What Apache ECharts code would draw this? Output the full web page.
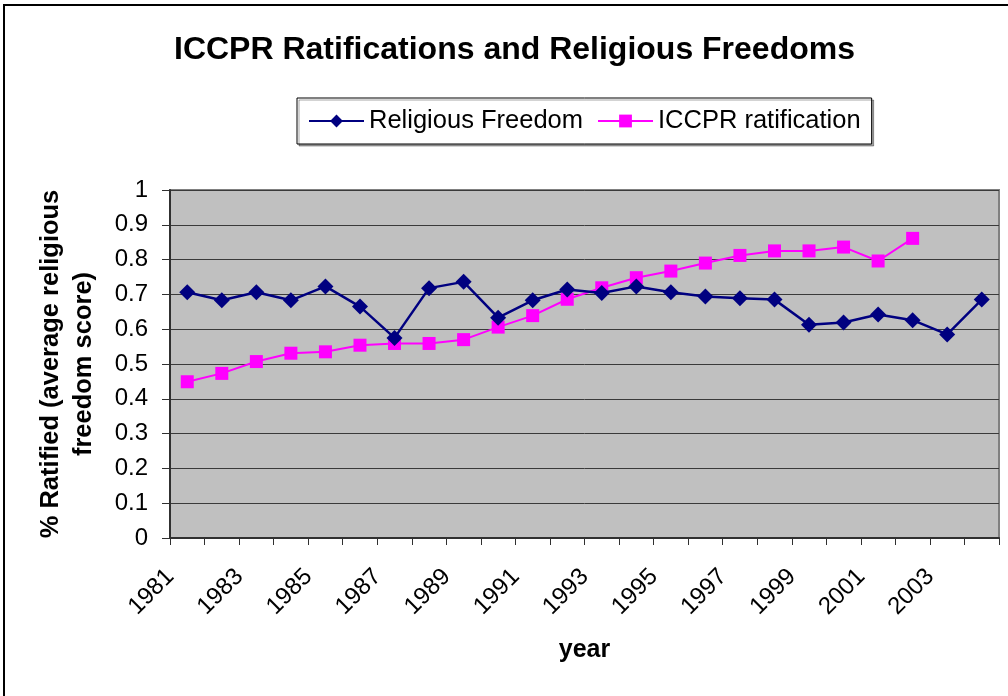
<!DOCTYPE html>
<html>
<head>
<meta charset="utf-8">
<script src="https://cdn.jsdelivr.net/npm/echarts@6/dist/echarts.min.js"></script>
<style>
html,body{margin:0;padding:0;background:#fff;}
#chart{width:1008px;height:696px;}
</style>
</head>
<body>
<div id="chart"></div>
<script>
var years = ['1981','1982','1983','1984','1985','1986','1987','1988','1989','1990','1991','1992',
             '1993','1994','1995','1996','1997','1998','1999','2000','2001','2002','2003','2004'];
var religiousFreedom = [0.706,0.683,0.706,0.683,0.723,0.665,0.575,0.718,0.736,0.633,0.683,0.714,
                        0.704,0.723,0.706,0.694,0.689,0.685,0.613,0.619,0.642,0.626,0.585,0.685];
var iccprRatification = [0.449,0.473,0.507,0.531,0.535,0.554,0.559,0.559,0.570,0.606,0.639,0.686,
                         0.719,0.748,0.767,0.790,0.812,0.825,0.825,0.836,0.796,0.861,null,null];
var yTicks = [0,0.1,0.2,0.3,0.4,0.5,0.6,0.7,0.8,0.9,1];

var FONT = '"Liberation Sans", Arial, sans-serif';
var chart = echarts.init(document.getElementById('chart'), null, {renderer:'canvas'});
chart.setOption({
  backgroundColor:'#ffffff',
  animation:false,
  textStyle:{fontFamily:FONT, color:'#000'},
  graphic:[{
    type:'rect', z:-10, silent:true,
    shape:{x:4, y:5, width:1100, height:800},
    style:{fill:null, stroke:'#000', lineWidth:2}
  }],
  title:{
    text:'ICCPR Ratifications and Religious Freedoms',
    left:174, top:34, padding:0,
    textStyle:{fontFamily:FONT, fontSize:32, fontWeight:'bold', color:'#000'}
  },
  legend:{
    left:297, top:98,
    padding:[10,11,10,11],
    itemGap:14, itemWidth:55, itemHeight:16,
    borderColor:'#000', borderWidth:1, backgroundColor:'#fff',
    shadowColor:'rgba(0,0,0,0.35)', shadowOffsetX:2, shadowOffsetY:2, shadowBlur:0,
    textStyle:{fontFamily:FONT, fontSize:25.5, color:'#000', padding:[0,0,0,0]},
    data:['Religious Freedom','ICCPR ratification']
  },
  grid:{
    left:170, right:9, top:190, bottom:158,
    show:true, backgroundColor:'#c0c0c0', borderColor:'#808080', borderWidth:2
  },
  xAxis:{
    type:'category', data:years, boundaryGap:true,
    name:'year', nameLocation:'middle', nameGap:100,
    nameTextStyle:{fontFamily:FONT, fontSize:25, fontWeight:'bold', color:'#000', verticalAlign:'top'},
    axisLine:{lineStyle:{color:'#303030', width:2}},
    axisTick:{show:true, interval:0, length:7, lineStyle:{color:'#303030', width:1}},
    axisLabel:{interval:1, rotate:45, margin:18, fontFamily:FONT, fontSize:24, color:'#000',
               padding:[0,24,0,0]},
    splitLine:{show:false}
  },
  yAxis:{
    type:'value', min:0, max:1, interval:0.1,
    name:'% Ratified (average religious\nfreedom score)',
    nameLocation:'middle', nameGap:70, nameRotate:90,
    nameTextStyle:{fontFamily:FONT, fontSize:25.5, fontWeight:'bold', color:'#000', lineHeight:33, align:'center'},
    axisLine:{show:true, lineStyle:{color:'#303030', width:2}},
    axisTick:{show:true, length:8, lineStyle:{color:'#303030', width:1}},
    axisLabel:{margin:22, fontFamily:FONT, fontSize:24, color:'#000',
      formatter:function(v){ return String(+v.toFixed(1)); }},
    splitLine:{show:true, lineStyle:{color:'#3a3a3a', width:1}}
  },
  series:[
    {
      name:'Religious Freedom', type:'line', data:religiousFreedom,
      symbol:'diamond', symbolSize:16,
      lineStyle:{color:'#000080', width:2.5},
      itemStyle:{color:'#000080'},
      z:3
    },
    {
      name:'ICCPR ratification', type:'line', data:iccprRatification,
      symbol:'rect', symbolSize:13, connectNulls:false,
      lineStyle:{color:'#ff00ff', width:2},
      itemStyle:{color:'#ff00ff'},
      z:2
    }
  ]
});
</script>
</body>
</html>
